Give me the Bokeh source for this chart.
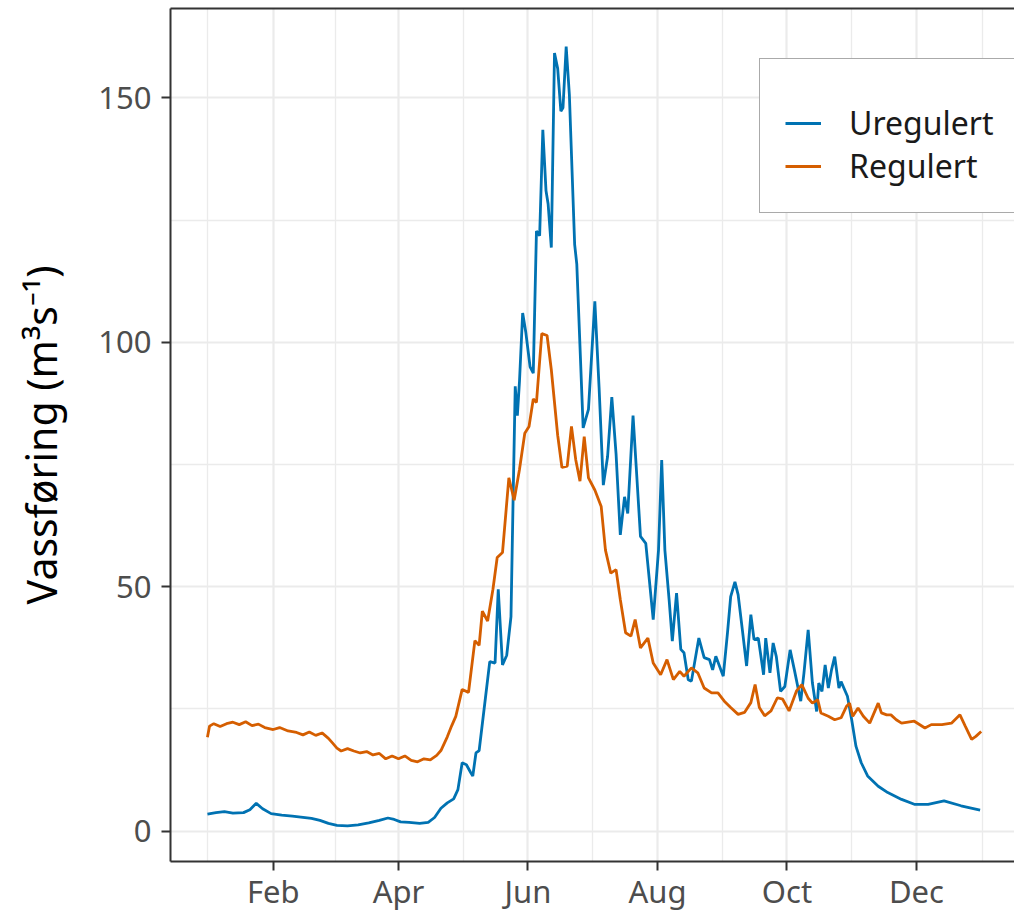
import pandas as pd
from bokeh.plotting import figure
from bokeh.models import (FixedTicker, DatetimeTickFormatter, Range1d, Legend,
                          LegendItem, LinearAxis, ColumnDataSource)
from bokeh.embed import file_html
from bokeh.resources import INLINE

# ---------------- data ----------------
YEAR_START = "2019-01-01"

series_names = ["Uregulert", "Regulert"]
series_colors = ["#0072B2", "#D55E00"]

# day of year (0 = 1 Jan) and discharge (m3/s), unregulated
uregulert_day = [0, 4, 8, 12, 17, 20, 23, 26, 30, 35, 40, 44, 49, 53, 57, 61, 66, 71, 76, 81,
                 85, 88, 91, 95, 100, 104, 107, 110, 113, 116, 118, 120, 122, 124, 125, 126.5,
                 128, 131, 133, 135.5, 137, 139, 141, 143, 144, 145, 146, 147, 148.5, 150, 152,
                 153.5, 155, 156.5, 158, 159.5, 160.5, 162, 163.5, 165, 166.5, 167.5, 169,
                 170.5, 173, 174, 177, 179.5, 182.5, 184.5, 186.5, 188.5, 190.5, 192.5, 194.5,
                 196.5, 198, 200.5, 202, 204, 206.5, 210, 212.5, 214, 215.5, 217.5, 219, 221,
                 223, 224.5, 226.5, 228, 231.5, 234, 236.5, 238, 239.5, 243, 245, 246.5, 248.5,
                 250, 252, 254, 256, 257.5, 259.5, 262, 263, 265, 266.5, 268, 270, 272, 274.5,
                 276.5, 279.5, 281, 283, 285, 287, 288, 289.5, 291, 292.5, 294, 295.5, 297.5,
                 298.5, 301.5, 303.5, 305.5, 308, 311, 316, 320.5, 327, 333, 339.5, 347, 355, 364]
uregulert_val = [3.5, 3.8, 4.0, 3.7, 3.8, 4.4, 5.7, 4.6, 3.6, 3.3, 3.1, 2.9, 2.6, 2.2, 1.6, 1.2,
                 1.1, 1.3, 1.7, 2.2, 2.7, 2.4, 1.9, 1.8, 1.6, 1.8, 2.8, 4.7, 5.8, 6.6, 8.5, 14.0,
                 13.6, 12.0, 11.3, 16.0, 16.5, 27.4, 34.7, 34.4, 49.5, 34.0, 36.0, 43.9, 68.0,
                 91.0, 85.0, 92.0, 106.0, 102.0, 95.0, 93.7, 122.8, 121.8, 143.5, 131.0, 128.3,
                 119.4, 159.2, 156.0, 147.3, 148.0, 160.5, 150.7, 120.0, 116.0, 82.5, 86.3,
                 108.4, 90.8, 70.8, 76.6, 88.8, 77.2, 60.6, 68.4, 65.0, 85.0, 74.5, 60.3, 58.9,
                 43.3, 57.5, 75.9, 57.5, 47.3, 38.9, 48.7, 37.2, 36.5, 31.0, 30.7, 39.5, 35.5,
                 35.1, 33.0, 35.8, 31.7, 40.6, 48.0, 51.0, 48.4, 41.2, 33.8, 44.3, 39.2, 39.5,
                 32.0, 39.5, 32.4, 38.5, 35.7, 28.6, 29.6, 37.1, 33.0, 26.6, 32.3, 41.2, 30.3,
                 24.5, 30.3, 28.6, 34.0, 29.3, 33.0, 35.7, 29.3, 30.6, 27.6, 22.8, 17.4, 14.0,
                 11.3, 9.2, 7.9, 6.5, 5.5, 5.5, 6.2, 5.2, 4.3]

# regulated
regulert_day = [0, 1, 3, 6, 9, 12, 15, 18, 21, 24, 27, 31, 34, 38, 42, 45, 48, 51, 54, 57, 59,
                61, 63, 66, 69, 72, 75, 78, 81, 84, 87, 90, 93, 96, 99, 102, 105, 108, 110, 113,
                115, 117, 120, 123, 126, 128, 129.5, 132, 134.5, 136.5, 139, 142, 144.5, 147,
                149.5, 151.5, 153.5, 155, 157.5, 160, 162, 165, 167, 169.5, 171.5, 173.5, 175.5,
                177.5, 179.5, 182.5, 185.5, 187.5, 190, 192.5, 194.5, 197, 199.5, 201.5, 204,
                207.5, 210, 213.5, 216.5, 219.5, 222.5, 224.5, 228, 231, 234, 237.5, 240.5,
                243.5, 246.5, 250, 253, 256, 258, 260, 262.5, 265.5, 268.5, 271, 274, 277.5,
                280, 283, 285, 287.5, 289, 292.5, 295.5, 298.5, 301, 302.5, 304, 306.5, 309,
                312, 316, 317.5, 320, 322, 324.5, 327, 330, 333, 338, 341, 346, 350.5, 354.5,
                357, 360, 362, 364.5]
regulert_val = [19.2, 21.5, 22.0, 21.4, 22.0, 22.3, 21.8, 22.4, 21.6, 21.9, 21.2, 20.8, 21.2,
                20.5, 20.2, 19.7, 20.3, 19.6, 20.1, 19.0, 18.0, 17.0, 16.4, 16.9, 16.4, 16.0,
                16.3, 15.6, 15.9, 14.8, 15.4, 14.8, 15.4, 14.5, 14.2, 14.8, 14.6, 15.5, 16.5,
                19.3, 21.5, 23.5, 29.0, 28.4, 39.0, 38.0, 45.0, 43.0, 49.5, 56.0, 57.0, 72.3,
                67.7, 74.0, 81.4, 82.8, 88.4, 87.7, 101.8, 101.4, 94.4, 81.0, 74.4, 74.7, 82.8,
                76.0, 71.6, 80.7, 72.3, 69.8, 66.4, 57.5, 52.8, 53.5, 47.4, 40.6, 39.9, 43.3,
                37.5, 39.5, 34.4, 32.0, 35.1, 31.0, 32.7, 31.7, 33.4, 32.4, 29.3, 28.3, 28.3,
                26.6, 25.3, 23.9, 24.3, 26.3, 30.0, 25.3, 23.6, 24.6, 27.3, 27.0, 24.6, 28.7,
                30.0, 27.2, 26.2, 26.9, 24.2, 23.5, 22.8, 23.2, 25.5, 26.2, 23.5, 25.2, 23.5,
                22.1, 26.2, 24.2, 23.8, 23.8, 22.8, 22.1, 22.3, 22.5, 21.1, 21.8, 21.8, 22.1,
                23.8, 21.5, 18.8, 19.4, 20.4]

x_tick_dates = ["2019-02-01", "2019-04-01", "2019-06-01", "2019-08-01", "2019-10-01", "2019-12-01"]
x_minor_dates = ["2019-01-01", "2019-03-02 12:00", "2019-05-01 12:00", "2019-07-01 12:00",
                 "2019-08-31 12:00", "2019-10-31 12:00", "2020-01-01"]
y_ticks = [0, 50, 100, 150]
y_minor = [25, 75, 125]

y_label = "Vassføring (m³s⁻¹)"

# ---------------- helpers ----------------
base = pd.Timestamp(YEAR_START)


def to_dates(days):
    return base + pd.to_timedelta(days, unit="D")


def ms(ts):
    return pd.Timestamp(ts).value / 1e6


FONT = "Noto Sans"

p = figure(width=1014, height=915, output_backend="svg", toolbar_location=None,
           x_axis_type="datetime",
           x_range=Range1d(base - pd.Timedelta(days=17.4), base + pd.Timedelta(days=380.2)),
           y_range=Range1d(-6.2, 168.3),
           min_border_left=170, min_border_right=0, min_border_top=8, min_border_bottom=54)
p.outline_line_color = None
p.background_fill_color = "white"
p.border_fill_color = "white"

src_u = ColumnDataSource(dict(x=to_dates(uregulert_day), y=uregulert_val))
src_r = ColumnDataSource(dict(x=to_dates(regulert_day), y=regulert_val))

r_u = p.line("x", "y", source=src_u, line_color=series_colors[0], line_width=2.8)
r_r = p.line("x", "y", source=src_r, line_color=series_colors[1], line_width=2.8)

# axes
xa = p.xaxis[0]
xa.ticker = FixedTicker(ticks=[ms(d) for d in x_tick_dates],
                        minor_ticks=[ms(d) for d in x_minor_dates])
xa.formatter = DatetimeTickFormatter(months="%b", days="%b", years="%b")
ya = p.yaxis[0]
ya.ticker = FixedTicker(ticks=y_ticks, minor_ticks=y_minor)
ya.axis_label = y_label

for ax in (xa, ya):
    ax.axis_line_color = "#333333"
    ax.axis_line_width = 2
    ax.major_tick_line_color = "#333333"
    ax.major_tick_line_width = 2
    ax.major_tick_out = 9
    ax.major_tick_in = 0
    ax.minor_tick_out = 0
    ax.minor_tick_in = 0
    ax.major_label_text_font = FONT
    ax.major_label_text_font_size = "31px"
    ax.major_label_text_color = "#4D4D4D"

xa.major_label_standoff = -1
ya.major_label_standoff = 10
ya.axis_label_text_font = FONT
ya.axis_label_text_font_size = "41px"
ya.axis_label_text_font_style = "normal"
ya.axis_label_text_color = "#000000"
ya.axis_label_standoff = 26

# top border
top_axis = LinearAxis(ticker=FixedTicker(ticks=[]), major_tick_out=0, major_tick_in=0,
                      minor_tick_out=0, minor_tick_in=0, major_label_standoff=0,
                      major_label_text_font_size="0px",
                      axis_line_color="#333333", axis_line_width=2)
p.add_layout(top_axis, "above")

# grid
for g in (p.xgrid[0], p.ygrid[0]):
    g.grid_line_color = "#EBEBEB"
    g.grid_line_width = 2.2
    g.minor_grid_line_color = "#EBEBEB"
    g.minor_grid_line_width = 1.3

# legend
legend = Legend(items=[LegendItem(label=series_names[0], renderers=[r_u]),
                       LegendItem(label=series_names[1], renderers=[r_r])],
                location=(589, 648), margin=0, padding=25, spacing=0,
                title=" ", title_text_font_size="14px", title_standoff=1,
                glyph_width=36, glyph_height=42, label_height=42, label_standoff=28,
                label_text_font=FONT, label_text_font_size="32px", label_text_color="#1A1A1A",
                border_line_color="#555555", border_line_width=1.5,
                background_fill_color="white", background_fill_alpha=1.0)
p.add_layout(legend)

open("out.html", "w").write(file_html(p, INLINE))
